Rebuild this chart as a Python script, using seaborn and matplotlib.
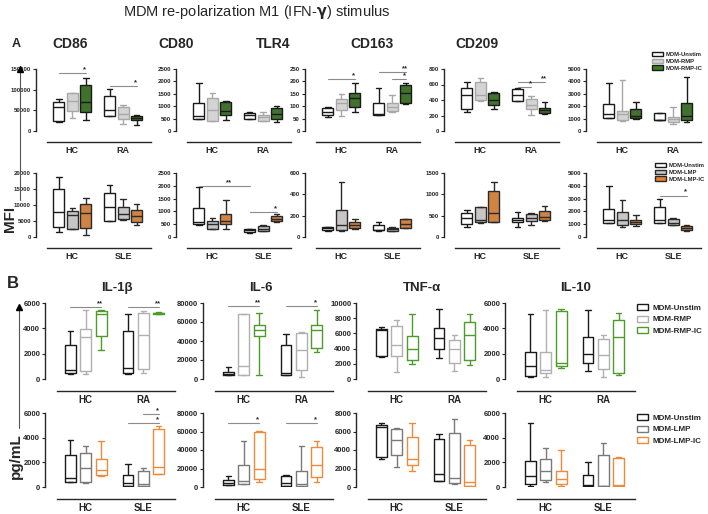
import numpy as np
import pandas as pd
import seaborn as sns
import matplotlib.pyplot as plt
from matplotlib.patches import Patch

# five-number summaries: [min, q1, median, q3, max]
# box order: HC-Unstim, HC-MP, HC-MP-IC, RA/SLE-Unstim, RA/SLE-MP, RA/SLE-MP-IC
cd86_rmp = [[22000, 25000, 58000, 71000, 78000], [31000, 48000, 73000, 92000, 93000], [26000, 46000, 69000, 112000, 128000],
            [36000, 37000, 50000, 84000, 102000], [16000, 28500, 42000, 59000, 63000], [15500, 26000, 32000, 36000, 38000]]
cd80_rmp = [[480, 490, 590, 1130, 1940], [400, 420, 830, 1350, 1520], [430, 660, 790, 1180, 1200],
            [480, 490, 640, 710, 760], [400, 420, 580, 660, 760], [380, 490, 680, 930, 1020]]
tlr4_rmp = [[58, 65, 77, 92, 97], [60, 85, 113, 130, 148], [78, 97, 133, 153, 195],
            [65, 66, 68, 112, 172], [75, 80, 97, 112, 147], [108, 112, 152, 185, 192]]
cd163_rmp = [[240, 285, 460, 560, 635], [385, 400, 460, 630, 680], [285, 330, 400, 490, 500],
             [385, 390, 470, 540, 550], [210, 280, 340, 415, 450], [225, 235, 270, 300, 370]]
cd209_rmp = [[1060, 1080, 1360, 2150, 3900], [820, 880, 1400, 1600, 4150], [1000, 1010, 1200, 1750, 2300],
             [880, 890, 900, 1420, 1430], [580, 750, 950, 1150, 1950], [720, 880, 1200, 2230, 4350]]

cd86_lmp = [[1700, 3000, 7800, 15000, 18700], [2400, 2450, 6800, 8200, 9100], [700, 2700, 7500, 10200, 12200],
            [5000, 5050, 9500, 13700, 16400], [5200, 5600, 7300, 9300, 11800], [3700, 4800, 6500, 8300, 10400]]
cd80_lmp = [[480, 490, 590, 1120, 1940], [310, 320, 510, 620, 750], [330, 520, 620, 880, 1450],
            [150, 190, 260, 310, 320], [230, 240, 320, 420, 460], [580, 620, 720, 820, 900]]
tlr4_lmp = [[60, 65, 80, 95, 98], [55, 70, 115, 255, 520], [75, 80, 110, 145, 165],
            [60, 63, 70, 117, 140], [58, 60, 72, 85, 95], [80, 85, 125, 165, 170]]
cd163_lmp = [[240, 300, 450, 570, 630], [320, 360, 410, 700, 710], [340, 350, 570, 1070, 1290],
             [240, 350, 390, 440, 590], [290, 370, 450, 540, 560], [380, 410, 470, 620, 720]]
cd209_lmp = [[1100, 1110, 1350, 2150, 3950], [800, 950, 1300, 1950, 2900], [880, 1000, 1200, 1350, 1700],
             [1100, 1110, 1350, 2330, 3000], [950, 970, 1100, 1420, 1450], [500, 580, 700, 880, 920]]

il1b_rmp = [[430, 450, 720, 2670, 3800], [400, 650, 3300, 3980, 5480], [2300, 3400, 5100, 5350, 5450],
            [380, 480, 850, 3800, 5150], [500, 800, 3500, 5250, 5350], [5100, 5150, 5200, 5230, 5300]]
il6_rmp = [[4000, 4200, 5200, 7700, 13000], [4000, 4200, 14000, 68000, 68500], [4500, 45000, 51500, 56500, 69500],
           [4000, 4200, 6500, 35500, 47000], [2500, 9000, 31000, 48500, 49000], [28500, 33000, 52000, 57300, 73000]]
tnfa_rmp = [[2900, 3000, 6400, 6600, 6900], [900, 3000, 4500, 7000, 7800], [2000, 2450, 3900, 5650, 8500],
            [2700, 3900, 5450, 6650, 9200], [1000, 2150, 4000, 5100, 5800], [1800, 2450, 5800, 7550, 8500]]
il10_rmp = [[130, 260, 1000, 2100, 5100], [130, 470, 700, 2100, 5480], [830, 990, 1300, 5400, 5550],
            [650, 1230, 1950, 3340, 5480], [130, 780, 1880, 3130, 3450], [310, 440, 3340, 4640, 5220]]

il1b_lmp = [[370, 380, 720, 2600, 3800], [320, 380, 1520, 2730, 3350], [930, 990, 1340, 2280, 3720],
            [100, 107, 320, 990, 1850], [100, 110, 270, 1310, 1530], [1070, 1080, 1600, 4690, 4930]]
il6_lmp = [[2400, 2500, 4300, 7100, 12000], [3500, 3600, 6000, 23800, 49800], [5300, 8500, 19000, 60000, 61000],
           [600, 700, 4300, 11400, 12800], [1400, 1500, 3200, 17400, 44000], [5000, 10700, 23800, 43400, 49800]]
tnfa_lmp = [[3000, 3270, 6470, 6700, 6900], [2200, 3450, 5100, 6300, 6400], [1780, 2380, 3000, 5400, 6900],
            [600, 610, 1400, 5230, 5700], [350, 430, 950, 5830, 7350], [140, 150, 500, 4590, 5050]]
il10_lmp = [[100, 270, 930, 2130, 5170], [400, 590, 1330, 2240, 3170], [100, 240, 640, 1310, 2990],
            [50, 55, 130, 990, 2000], [100, 105, 110, 2590, 3570], [100, 105, 190, 2320, 2400]]

groups_ra = ['HC', 'RA']
groups_sle = ['HC', 'SLE']
conds_rmp = ['MDM-Unstim', 'MDM-RMP', 'MDM-RMP-IC']
conds_lmp = ['MDM-Unstim', 'MDM-LMP', 'MDM-LMP-IC']

# significance bars: (group, from hue, to hue, y, stars)
sig_cd86 = [(0, 0, 2, 140000, '*'), (1, 0, 2, 109000, '*')]
sig_tlr4 = [(0, 0, 2, 210, '*'), (1, 0, 2, 238, '**'), (1, 1, 2, 210, '*')]
sig_cd163 = [(1, 0, 2, 632, '**'), (1, 0, 1, 568, '*')]
sig_cd80_lmp = [((0, 0), (1, 0), 2000, '**'), (1, 0, 2, 960, '*')]
sig_cd209_lmp = [(1, 0, 2, 3230, '*')]
sig_il1b_rmp = [(0, 0, 2, 5700, '**'), (1, 0, 2, 5700, '**')]
sig_il6_rmp = [(0, 0, 2, 76500, '**'), (1, 0, 2, 76500, '*')]
sig_il1b_lmp = [(1, 1, 2, 5900, '*'), (1, 0, 2, 5190, '*')]
sig_il6_lmp = [(0, 0, 2, 69000, '*'), (1, 0, 2, 69000, '*')]

W, H = 708, 514
sns.set_style('ticks')
plt.rcParams['font.family'] = ['Liberation Sans', 'DejaVu Sans']
plt.rcParams['font.weight'] = 'bold'

fig = plt.figure(figsize=(W / 100, H / 100), dpi=100)


def fx(x):
    return x / W


def fy(y):
    return 1 - y / H


def long_df(boxes, groups, conds):
    rows = []
    for i, five in enumerate(boxes):
        for v in five:
            rows.append((groups[i // 3], conds[i % 3], v))
    return pd.DataFrame(rows, columns=['group', 'cond', 'value'])


def panel(x0, width, ybot, ytop, boxes, groups, conds, fills, edges, ymax, ystep,
          fill=True, gap=0.2, off=8, tick_fs=4.4, cat_fs=6.5, sig=()):
    ax = fig.add_axes([fx(x0), fy(ybot), width / W, (ybot - ytop) / H])
    df = long_df(boxes, groups, conds)
    pal = dict(zip(conds, fills if fill else edges))
    # one call per condition so each can get its own edge colour
    for k, c in enumerate(conds):
        sns.boxplot(data=df[df['cond'] == c], x='group', y='value', hue='cond', order=groups,
                    hue_order=conds, palette=pal, fill=fill, linecolor=edges[k], whis=(0, 100),
                    width=0.8, gap=gap, dodge=True, linewidth=1.0, legend=False, ax=ax)
    sns.despine(ax=ax)
    ax.spines['left'].set_position(('outward', off))
    ax.spines['bottom'].set_position(('outward', off))
    ax.spines['left'].set_linewidth(1.0)
    ax.spines['bottom'].set_linewidth(1.0)
    ax.set_xlim(-0.5, 1.55)
    ax.set_ylim(0, ymax)
    ticks = np.arange(0, ymax + 1, ystep)
    ax.set_yticks(ticks)
    ax.set_yticklabels([str(int(t)) for t in ticks])
    ax.set_xticks([0, 1])
    ax.set_xticklabels(groups)
    ax.set_xlabel('')
    ax.set_ylabel('')
    ax.tick_params(axis='y', length=2.5, width=0.8, pad=1, labelsize=tick_fs)
    ax.tick_params(axis='x', length=0, pad=3, labelsize=cat_fs)
    step = 0.8 / 3
    for s in sig:
        if isinstance(s[0], tuple):
            (g1, h1), (g2, h2), y, txt = s
            xa, xb = g1 + (h1 - 1) * step, g2 + (h2 - 1) * step
            xs = (xa + xb) / 2 + 0.1
        else:
            g, h1, h2, y, txt = s
            xa, xb = g + (h1 - 1) * step, g + (h2 - 1) * step
            xs = xb - 0.02
        ax.plot([xa, xb], [y, y], color='#8c8c8c', lw=0.8, clip_on=False)
        ax.text(xs, y, txt, ha='center', va='bottom', fontsize=5.5, fontweight='bold',
                clip_on=False)
    return ax


# colours
fill_rmp = ['white', '#d4d4d4', '#3b7d23']
edge_rmp = ['#1a1a1a', '#a8a8a8', '#1a1a1a']
fill_lmp = ['white', '#c6c6c6', '#e8802c']
edge_lmp = ['#1a1a1a', '#2a2a2a', '#2a2a2a']
line_rmp = ['#1a1a1a', '#b0b0b0', '#4e9a2a']
line_lmp = ['#1a1a1a', '#7a7a7a', '#f08a3a']

# panel A, row 1 (RA) and row 2 (SLE)
xa = [47, 187, 316, 455, 597]
wa = 104
panel(xa[0], wa, 131, 69, cd86_rmp, groups_ra, conds_rmp, fill_rmp, edge_rmp, 150000, 50000, sig=sig_cd86)
panel(xa[1], wa, 131, 69, cd80_rmp, groups_ra, conds_rmp, fill_rmp, edge_rmp, 2500, 500)
panel(xa[2], wa, 131, 69, tlr4_rmp, groups_ra, conds_rmp, fill_rmp, edge_rmp, 250, 50, sig=sig_tlr4)
panel(xa[3], wa, 131, 69, cd163_rmp, groups_ra, conds_rmp, fill_rmp, edge_rmp, 800, 200, sig=sig_cd163)
panel(xa[4], wa, 131, 69, cd209_rmp, groups_ra, conds_rmp, fill_rmp, edge_rmp, 5000, 1000)

panel(xa[0], wa, 237, 173, cd86_lmp, groups_sle, conds_lmp, fill_lmp, edge_lmp, 20000, 5000)
panel(xa[1], wa, 237, 173, cd80_lmp, groups_sle, conds_lmp, fill_lmp, edge_lmp, 2500, 500, sig=sig_cd80_lmp)
panel(xa[2], wa, 237, 173, tlr4_lmp, groups_sle, conds_lmp, fill_lmp, edge_lmp, 600, 200)
panel(xa[3], wa, 237, 173, cd163_lmp, groups_sle, conds_lmp, fill_lmp, edge_lmp, 1500, 500)
panel(xa[4], wa, 237, 173, cd209_lmp, groups_sle, conds_lmp, fill_lmp, edge_lmp, 5000, 1000, sig=sig_cd209_lmp)

# panel B
xb = [57, 215, 368, 517]
wb = 118
kw_b = dict(fill=False, gap=0.3, off=8.5, tick_fs=5.5, cat_fs=7)
panel(xb[0], wb, 379, 303, il1b_rmp, groups_ra, conds_rmp, line_rmp, line_rmp, 6000, 2000, sig=sig_il1b_rmp, **kw_b)
panel(xb[1], wb, 379, 303, il6_rmp, groups_ra, conds_rmp, line_rmp, line_rmp, 80000, 20000, sig=sig_il6_rmp, **kw_b)
panel(xb[2], wb, 379, 303, tnfa_rmp, groups_ra, conds_rmp, line_rmp, line_rmp, 10000, 2000, **kw_b)
panel(xb[3], wb, 379, 303, il10_rmp, groups_ra, conds_rmp, line_rmp, line_rmp, 6000, 2000, **kw_b)

panel(xb[0], wb, 487, 413, il1b_lmp, groups_sle, conds_lmp, line_lmp, line_lmp, 6000, 2000, sig=sig_il1b_lmp, **kw_b)
panel(xb[1], wb, 487, 413, il6_lmp, groups_sle, conds_lmp, line_lmp, line_lmp, 80000, 20000, sig=sig_il6_lmp, **kw_b)
panel(xb[2], wb, 487, 413, tnfa_lmp, groups_sle, conds_lmp, line_lmp, line_lmp, 8000, 2000, **kw_b)
panel(xb[3], wb, 487, 413, il10_lmp, groups_sle, conds_lmp, line_lmp, line_lmp, 6000, 2000, **kw_b)

# titles and labels
fig.text(fx(257), fy(12), 'MDM re-polarization M1 (IFN-$\\mathbf{\\gamma}$) stimulus', ha='center', va='center',
         fontsize=10.5, fontweight='normal')
fig.text(fx(16), fy(44), 'A', ha='center', va='center', fontsize=9, fontweight='bold')
fig.text(fx(13), fy(284), 'B', ha='center', va='center', fontsize=12, fontweight='bold')
for name, x in zip(['CD86', 'CD80', 'TLR4', 'CD163', 'CD209'], [70, 176, 273, 372, 477]):
    fig.text(fx(x), fy(44), name, ha='center', va='center', fontsize=10, fontweight='bold')
for name, x in zip(['IL-1β', 'IL-6', 'TNF-α', 'IL-10'], [117, 261, 422, 576]):
    fig.text(fx(x), fy(288), name, ha='center', va='center', fontsize=9.5, fontweight='bold')

fig.text(fx(10), fy(219), 'MFI', rotation=90, ha='center', va='center', fontsize=11, fontweight='bold')
fig.text(fx(16), fy(456), 'pg/mL', rotation=90, ha='center', va='center', fontsize=11, fontweight='bold')
# vertical arrows next to the y labels
fig.add_artist(plt.Line2D([fx(20), fx(20)], [fy(200), fy(70)], color='#555555', lw=0.8))
fig.add_artist(plt.Line2D([fx(20)], [fy(69)], marker='^', markersize=4, color='black', lw=0))
fig.add_artist(plt.Line2D([fx(19), fx(19)], [fy(428), fy(308)], color='#555555', lw=0.8))
fig.add_artist(plt.Line2D([fx(19)], [fy(307)], marker='^', markersize=4, color='black', lw=0))


# legends
def add_legend(conds, fills, edges, x, y, fs, hl, ls):
    handles = [Patch(facecolor=f, edgecolor=e, lw=1.0, label=c) for c, f, e in zip(conds, fills, edges)]
    fig.legend(handles=handles, loc='upper left', bbox_to_anchor=(fx(x), fy(y)), frameon=False,
               fontsize=fs, handlelength=hl, handleheight=0.8, labelspacing=ls, handletextpad=0.5,
               borderaxespad=0, borderpad=0)


add_legend(conds_rmp, fill_rmp, edge_rmp, 652, 52, 4.2, 1.8, 0.25)
add_legend(conds_lmp, fill_lmp, edge_lmp, 655, 163, 4.2, 1.8, 0.25)
add_legend(conds_rmp, ['none'] * 3, line_rmp, 637, 304, 5.8, 1.4, 0.45)
add_legend(conds_lmp, ['none'] * 3, line_lmp, 637, 414, 5.8, 1.4, 0.45)

fig.savefig('out.png', dpi=100)
